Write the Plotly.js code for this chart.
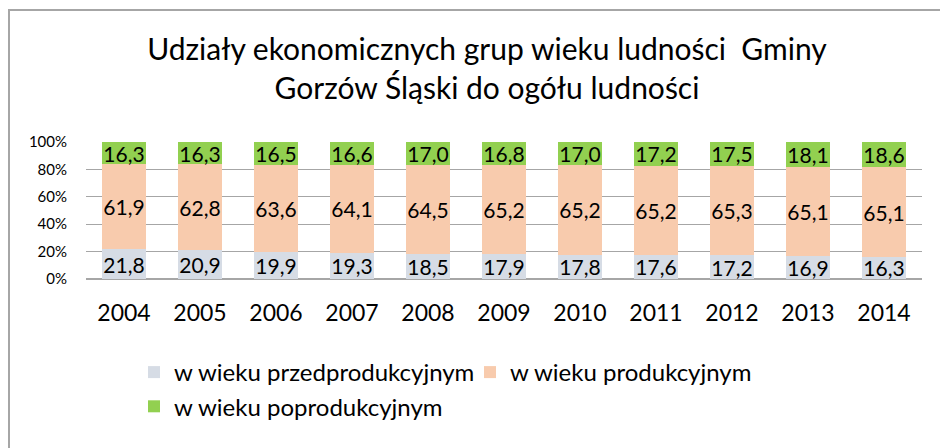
<!DOCTYPE html>
<html>
<head>
<meta charset="utf-8">
<script src="https://cdn.plot.ly/plotly-3.0.1.min.js"></script>
<style>html,body{margin:0;padding:0;background:#fff}#chart{width:940px;height:448px}</style>
</head>
<body>
<div id="chart"></div>
<script>
var years = ['2004','2005','2006','2007','2008','2009','2010','2011','2012','2013','2014'];
var przed = [21.8,20.9,19.9,19.3,18.5,17.9,17.8,17.6,17.2,16.9,16.3];
var prod  = [61.9,62.8,63.6,64.1,64.5,65.2,65.2,65.2,65.3,65.1,65.1];
var popr  = [16.3,16.3,16.5,16.6,17.0,16.8,17.0,17.2,17.5,18.1,18.6];
var seriesNames = ['w wieku przedprodukcyjnym','w wieku produkcyjnym','w wieku poprodukcyjnym'];
var colors = ['#D6DCE5','#F8CBAD','#92D050'];
var yTicks = [0,20,40,60,80,100];
var titleLine1 = 'Udziały ekonomicznych grup wieku ludności  Gminy';
var titleLine2 = 'Gorzów Śląski do ogółu ludności';

var FONT = 'Lato, "Open Sans", sans-serif';
function fmt(v){ return v.toFixed(1).replace('.', ','); }
function mk(vals, i){
  return {
    type:'bar', x: years, y: vals, name: seriesNames[i],
    marker:{color: colors[i], line:{width:0}},
    text: vals.map(fmt), textposition:'inside', insidetextanchor:'middle',
    textangle:0, constraintext:'none',
    textfont:{family: FONT, size: 21, color:'#000'},
    hoverinfo:'x+y+name'
  };
}
var data = [mk(przed,0), mk(prod,1), mk(popr,2)];

var W = 940, H = 448, L = 86, R = 18, T = 142, B = 169;
var pw = W - L - R, ph = H - T - B;
function px(x){ return (x - L)/pw; }
function py(y){ return (H - B - y)/ph; }

var layout = {
  width: W, height: H,
  margin:{l:L, r:R, t:T, b:B, pad:0},
  paper_bgcolor:'#fff', plot_bgcolor:'#fff',
  barmode:'stack', barnorm:'percent', bargap:0.42,
  font:{family: FONT, color:'#000'},
  title:{
    text: titleLine1 + '<br>' + titleLine2, xref:'paper', x: px(487), xanchor:'center',
    yref:'container', y: 1 - 60/H, yanchor:'middle',
    font:{family: FONT, size: 30, color:'#000'}
  },
  xaxis:{
    type:'category', showgrid:false, zeroline:false, showline:false,
    ticks:'', ticklabelstandoff: 18,
    tickfont:{family: FONT, size: 23, color:'#000'}
  },
  yaxis:{
    range:[0,100], tickvals: yTicks, ticktext: yTicks.map(function(v){return v+'%';}),
    showgrid:true, gridcolor:'#A6A6A6', gridwidth:1.3,
    zeroline:true, zerolinecolor:'#A6A6A6', zerolinewidth:1.3,
    showline:false, ticks:'', ticklabelstandoff: 18,
    tickfont:{family: FONT, size: 15, color:'#000'}
  },
  showlegend:true,
  legend:{
    orientation:'h', x: px(134), xanchor:'left', y: py(350), yanchor:'top',
    font:{family: FONT, size: 24, color:'#000'},
    traceorder:'normal', itemwidth:30, entrywidth: 291, entrywidthmode:'pixels'
  },
  shapes:[{
    type:'path', xref:'paper', yref:'paper',
    path: 'M '+px(9)+' '+py(H+2)+' L '+px(9)+' '+py(10)+' L '+px(W+2)+' '+py(10),
    line:{color:'#A6A6A6', width:2}
  }]
};
Plotly.newPlot('chart', data, layout, {displayModeBar:false, staticPlot:true});
</script>
</body>
</html>
